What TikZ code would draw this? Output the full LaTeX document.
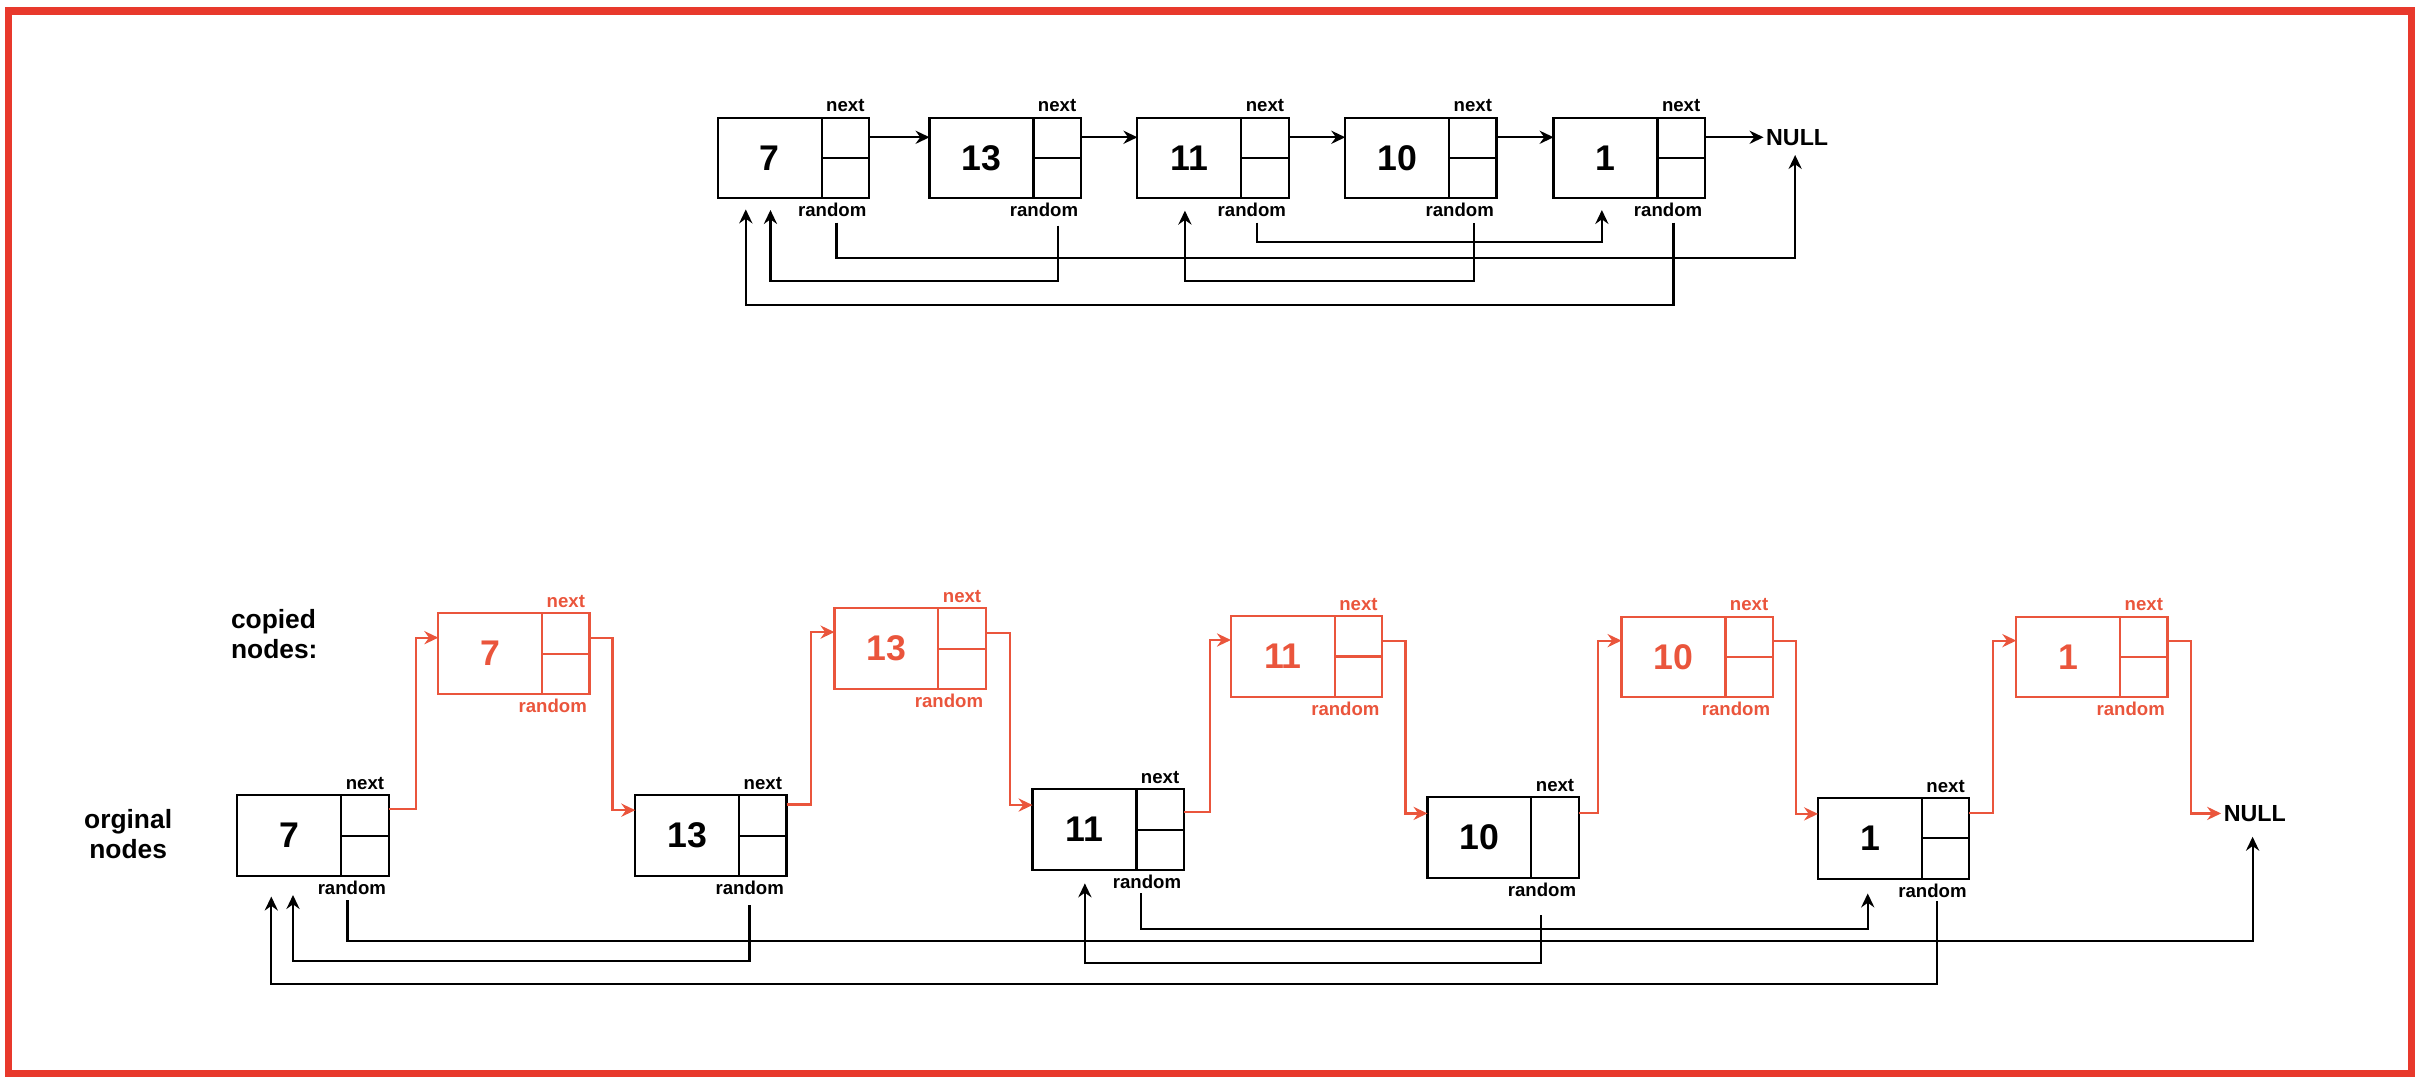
\documentclass[tikz,border=0pt]{standalone}
\usepackage{fontspec}
\setmainfont{Liberation Sans}
\usetikzlibrary{arrows.meta,calc}
\definecolor{copyred}{RGB}{234,85,60}
\definecolor{framered}{RGB}{232,57,44}
\tikzset{
  cell/.style={draw, line width=1.4pt, minimum width=97.5pt, minimum height=52pt, inner sep=0pt, outer sep=0pt},
  val/.style={font=\fontsize{23}{27}\selectfont\bfseries, inner sep=0pt},
  lbl/.style={font=\fontsize{12}{14}\selectfont\bfseries, inner sep=0pt},
  side/.style={font=\fontsize{17}{19.5}\selectfont\bfseries, align=left, inner sep=0pt},
  nulltext/.style={font=\fontsize{15}{18}\selectfont\bfseries, inner sep=1.5pt},
  link/.style={->, >={Stealth[length=9pt,width=8.5pt,inset=3pt]}, line width=1.4pt},
}
\begin{document}
\begin{tikzpicture}[x=1pt, y=-1pt]
		\useasboundingbox (0,0) rectangle (1564,700.1);
		\draw[framered, line width=4.6pt] (5.6,7.1) rectangle (1554.6,692.1);
		% list cells: name/x/y/value/colour/pointer divider
		\foreach \n/\x/\y/\v/\col/\h in {
			t7/511.5/101.9/7/black/1, t13/648/101.9/13/black/1, t11/782/101.9/11/black/1,
			t10/916/101.9/10/black/1, t1/1050.3/101.9/1/black/1,
			o7/201.8/538.7/7/black/1, o13/458.3/538.7/13/black/1, o11/714.4/534.9/11/black/1,
			o10/969/540/10/black/0, o1/1220.8/540.5/1/black/1,
			c7/331.3/421.4/7/copyred/1, c13/586.7/418.2/13/copyred/1, c11/842.3/423.2/11/copyred/1,
			c10/1094.1/423.6/10/copyred/1, c1/1348.6/423.6/1/copyred/1}
		{
			\node[cell, draw=\col] (\n) at (\x,\y) {};
			\node[val, text=\col] (\n-val) at ([xshift=-15.25pt]\n.center) {\v};
			\draw[\col, line width=1.4pt] ([xshift=-30.5pt]\n.north east) -- ([xshift=-30.5pt]\n.south east);
			\ifnum\h=1 \draw[\col, line width=1.4pt] ([xshift=-30.5pt]\n.east) -- (\n.east); \fi
			\node[lbl, text=\col] (\n-next) at ([xshift=-15.25pt,yshift=7.6pt]\n.north east) {next};
			\node[lbl, text=\col, anchor=east] (\n-rnd) at ([xshift=-1.5pt,yshift=-7.5pt]\n.south east) {random};
		}
		\node[nulltext] (nulltop) at (1158.6,88.5) {NULL};
		\node[nulltext] (nullbot) at (1453.6,524.4) {NULL};
		\node[side] (copiedlbl) at (176.8,409) {copied\\nodes:};
		\node[side, align=center] (orglbl) at (82.6,537.5) {orginal\\nodes};
		% top list: next
		\draw[link] ($(t7.east)+(0,-13.4)$) -- ($(t13.west)+(0,-13.4)$);
		\draw[link] ($(t13.east)+(0,-13.4)$) -- ($(t11.west)+(0,-13.4)$);
		\draw[link] ($(t11.east)+(0,-13.4)$) -- ($(t10.west)+(0,-13.4)$);
		\draw[link] ($(t10.east)+(0,-13.4)$) -- ($(t1.west)+(0,-13.4)$);
		\draw[link] ($(t1.east)+(0,-13.4)$) -- (nulltop.west);
		% top list: random
		\draw[link] ($(t7.south)+(27.8,15.7)$) -- ++(0,22.5) -| ($(nulltop.south)+(-1.3,4.5)$);
		\draw[link] ($(t13.south)+(33.8,17.6)$) -- ++(0,35.7) -| ($(t7.south)+(-14.8,7.5)$);
		\draw[link] ($(t11.south)+(28.6,15.7)$) -- ++(0,12.2) -| ($(t1.south)+(-17.6,7.5)$);
		\draw[link] ($(t10.south)+(34.1,16.1)$) -- ++(0,37.2) -| ($(t11.south)+(-18.1,7.9)$);
		\draw[link] ($(t1.south)+(28.6,15.7)$) -- ++(0,53) -| ($(t7.south)+(-30.7,7.1)$);
		% interleaved copies
		\draw[link, copyred] ($(o7.east)+(0,-16.9)$) -- ++(17.4,0) |- ($(c7.west)+(0,-10.3)$);
		\draw[link, copyred] ($(c7.east)+(0,-10)$) -- ++(14.8,0) |- ($(o13.west)+(0,-16.4)$);
		\draw[link, copyred] ($(o13.east)+(0,-20.1)$) -- ++(15.9,0) |- ($(c13.west)+(0,-10.7)$);
		\draw[link, copyred] ($(c13.east)+(0,-10.2)$) -- ++(15.5,0) |- ($(o11.west)+(0,-15.9)$);
		\draw[link, copyred] ($(o11.east)+(0,-11.6)$) -- ++(17,0) |- ($(c11.west)+(0,-10.6)$);
		\draw[link, copyred] ($(c11.east)+(0,-10.2)$) -- ++(15,0) |- ($(o10.west)+(0,-15.6)$);
		\draw[link, copyred] ($(o10.east)+(0,-16)$) -- ++(12.3,0) |- ($(c10.west)+(0,-10.6)$);
		\draw[link, copyred] ($(c10.east)+(0,-10.3)$) -- ++(15,0) |- ($(o1.west)+(0,-15.8)$);
		\draw[link, copyred] ($(o1.east)+(0,-16.5)$) -- ++(15.5,0) |- ($(c1.west)+(0,-10.6)$);
		\draw[link, copyred] ($(c1.east)+(0,-10.3)$) -- ++(15,0) |- (nullbot.west);
		% bottom list: random
		\draw[link] ($(o7.south)+(22.2,15.6)$) -- ++(0,26.2) -| ($(nullbot.south)+(-1.4,8.1)$);
		\draw[link] ($(o13.south)+(24.9,18.8)$) -- ++(0,35.9) -| ($(o7.south)+(-12.9,12.3)$);
		\draw[link] ($(o11.south)+(21.4,15.1)$) -- ++(0,23) -| ($(o1.south)+(-16.7,9.5)$);
		\draw[link] ($(o10.south)+(24.5,24)$) -- ++(0,31) -| ($(o11.south)+(-15,8.6)$);
		\draw[link] ($(o1.south)+(27.7,14.5)$) -- ++(0,53.6) -| ($(o7.south)+(-26.9,13.3)$);
	\end{tikzpicture}
\end{document}
